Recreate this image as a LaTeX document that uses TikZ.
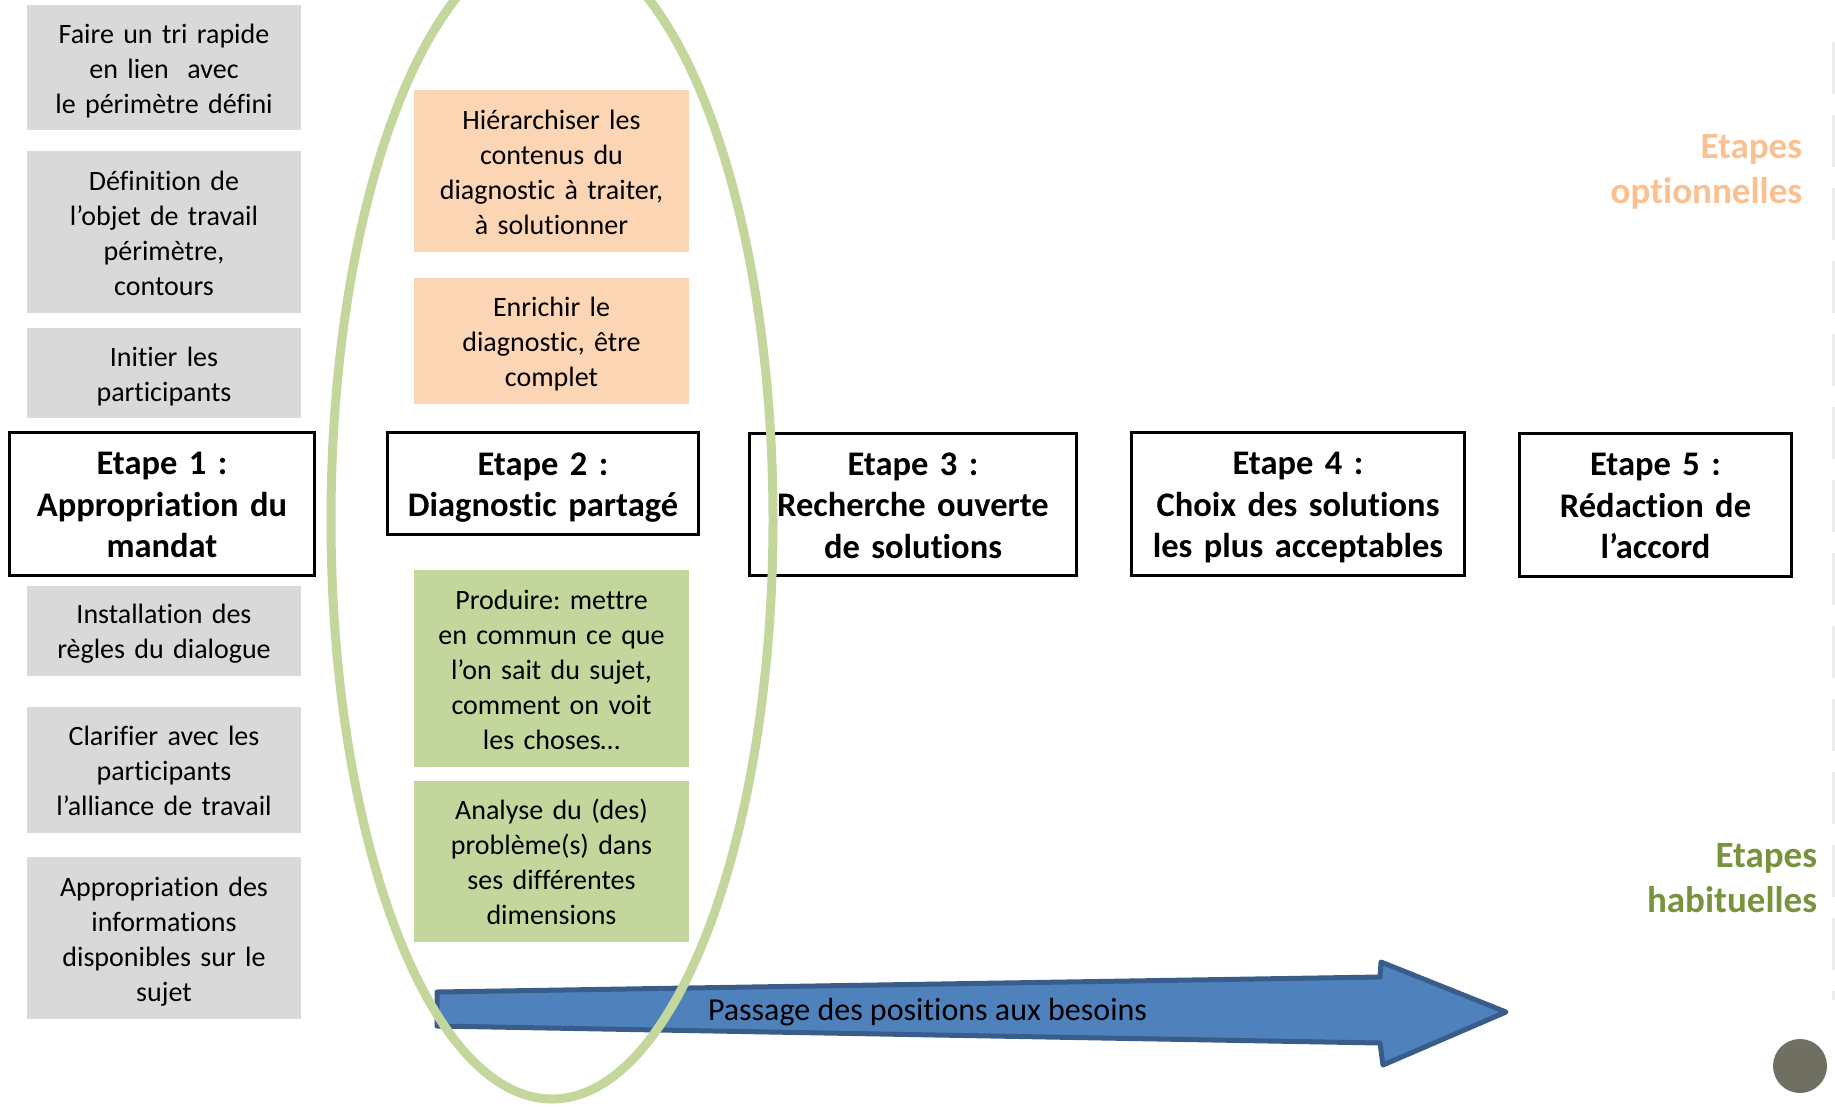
\documentclass[tikz,border=0pt]{standalone}
\usepackage{fontspec}
\setmainfont{Carlito}[Ligatures=NoCommon]
\frenchspacing
\newcommand\tops{\rule{0pt}{0.8\baselineskip}}
\newcommand\bots{\rule[-0.2\baselineskip]{0pt}{0pt}}
\definecolor{grayfill}{HTML}{D9D9D9}
\definecolor{orangefill}{HTML}{FCD5B5}
\definecolor{greenfill}{HTML}{C3D69B}
\definecolor{ellgreen}{HTML}{C3D69B}
\definecolor{arrowfill}{HTML}{4F81BD}
\definecolor{arrowdraw}{HTML}{385D8A}
\definecolor{optorange}{HTML}{FAC090}
\definecolor{habgreen}{HTML}{77933C}
\definecolor{dotgray}{HTML}{6F6F62}
\begin{document}
\begin{tikzpicture}[x=1pt,y=-1pt,
  every node/.style={inner sep=0pt,outer sep=0pt},
  subbox/.style={text width=274pt, align=center, font=\frenchspacing\fontsize{28}{35}\selectfont},
  graybox/.style={subbox, fill=grayfill},
  orangebox/.style={subbox, text width=275pt, fill=orangefill},
  greenbox/.style={subbox, text width=275pt, fill=greenfill},
  stagebox/.style={draw=black, line width=2.5pt, fill=white, align=center,
     font=\frenchspacing\bfseries\fontsize{34.5}{41.5}\selectfont},
  sidelabel/.style={anchor=east, align=right, font=\bfseries\fontsize{37}{44.5}\selectfont}]
\useasboundingbox (0,0) rectangle (1835,1106);
\fill[white] (0,0) rectangle (1835,1106);
\clip (0,0) rectangle (1835,1106);

% left column
\node[graybox, minimum height=125pt] (g1) at (164,67.5) {\tops Faire un tri rapide\\en lien~ avec\\le périmètre défini\bots};
\node[graybox, minimum height=162pt] (g2) at (164,232) {\tops Définition de\\l’objet de travail\\périmètre,\\contours\bots};
\node[graybox, minimum height=90pt] (g3) at (164,373) {\tops Initier les\\participants\bots};
\node[graybox, minimum height=90pt] (g4) at (164,630.5) {\tops Installation des\\règles du dialogue\bots};
\node[graybox, minimum height=126pt] (g5) at (164,769.5) {\tops Clarifier avec les\\participants\\l’alliance de travail\bots};
\node[graybox, minimum height=162pt] (g6) at (164,938) {\tops Appropriation des\\informations\\disponibles sur le\\sujet\bots};

% middle column
\node[orangebox, minimum height=162pt] (o1) at (551.5,171) {\tops Hiérarchiser les\\contenus du\\diagnostic à traiter,\\à solutionner\bots};
\node[orangebox, minimum height=126pt] (o2) at (551.5,341) {\tops Enrichir le\\diagnostic, être\\complet\bots};
\node[greenbox, minimum height=197pt] (v1) at (551.5,668.5) {\tops Produire: mettre\\en commun ce que\\l’on sait du sujet,\\comment on voit\\les choses…\bots};
\node[greenbox, minimum height=161pt] (v2) at (551.5,861.5) {\tops Analyse du (des)\\problème(s) dans\\ses différentes\\dimensions\bots};

% stages
\node[stagebox, text width=305pt, minimum height=143pt] (e1) at (162,504) {\tops Etape 1 :\\Appropriation du\\mandat\bots};
\node[stagebox, text width=311pt, minimum height=102pt] (e2) at (543,483.5) {\tops Etape 2 :\\Diagnostic partagé\bots};
\node[stagebox, text width=327pt, minimum height=142pt] (e3) at (913,504.5) {\tops Etape 3 :\\Recherche ouverte\\de solutions\bots};
\node[stagebox, text width=333pt, minimum height=143pt] (e4) at (1298,504) {\tops Etape 4 :\\Choix des solutions\\les plus acceptables\bots};
\node[stagebox, text width=272pt, minimum height=143pt] (e5) at (1655.5,505) {\tops Etape 5 :\\Rédaction de\\l’accord\bots};

% side labels
\node[sidelabel, text=optorange] (lopt) at (1802,172) {\strut Etapes\\optionnelles\strut};
\node[sidelabel, text=habgreen] (lhab) at (1817,881) {\strut Etapes\\habituelles\strut};

% faint right edge
\draw[gray!15, line width=3pt, dash pattern=on 52pt off 21pt] (1833,42) -- (1833,1000);

% big arrow
\filldraw[fill=arrowfill, draw=arrowdraw, line width=5pt, line join=round]
  (437,992) -- (1380,977) -- (1381,962) -- (1506,1012) -- (1383,1065) -- (1380,1043) -- (437,1026) -- cycle;
\node[anchor=west, font=\fontsize{32}{38}\selectfont] (ptext) at (708,1012) {Passage des positions aux besoins};

% ellipse
\draw[ellgreen, line width=9pt] (552,520) ellipse [x radius=221, y radius=579];

% dot
\fill[dotgray] (1800,1066) circle [radius=27];
\end{tikzpicture}
\end{document}
